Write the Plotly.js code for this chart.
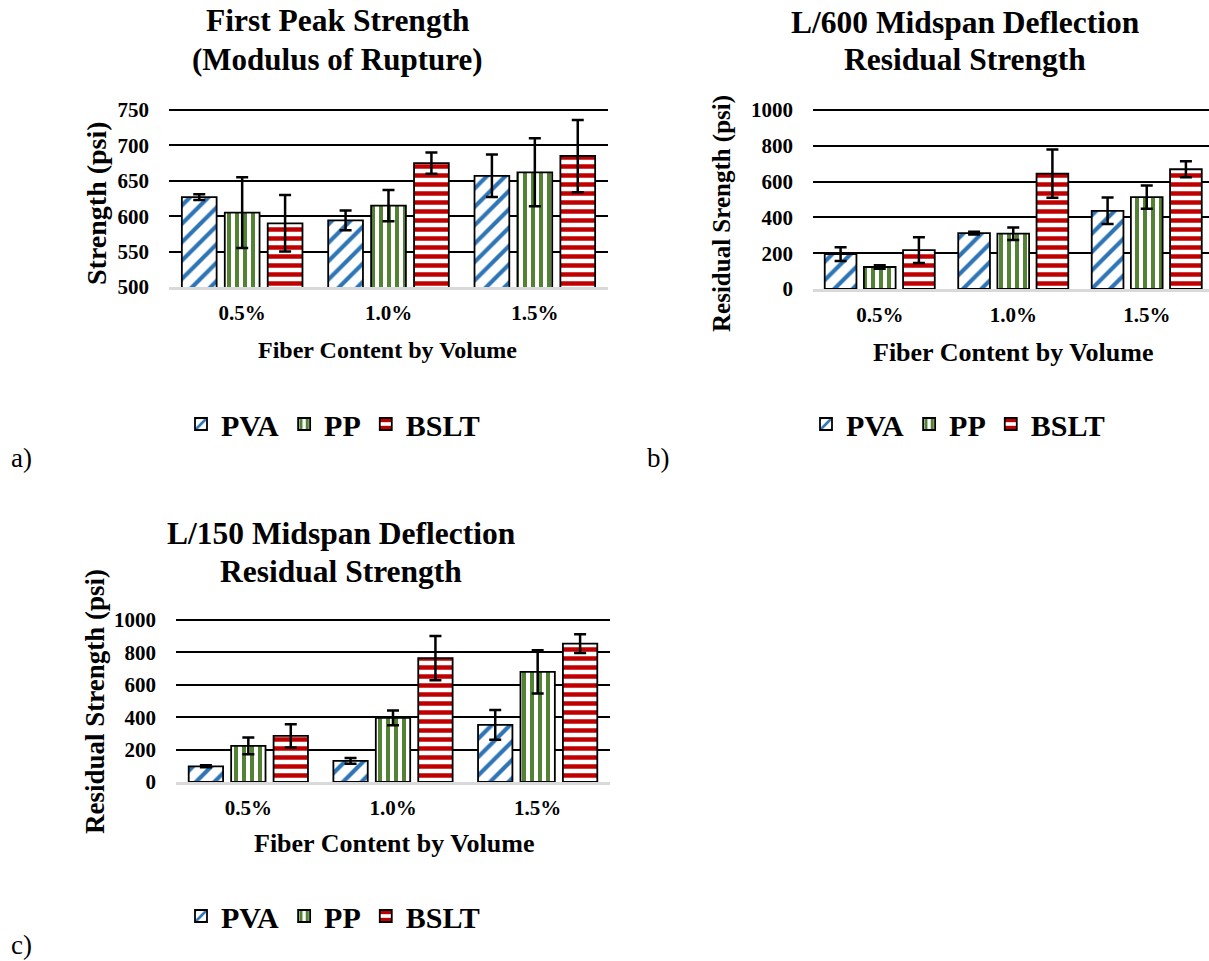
<!DOCTYPE html>
<html>
<head>
<meta charset="utf-8">
<script src="https://cdn.plot.ly/plotly-3.0.1.min.js"></script>
<style>html,body{margin:0;padding:0;background:#fff;}#chart{width:1209px;height:961px;}</style>
</head>
<body>
<div id="chart"></div>
<script>
// ---- data ----
const categories = ['0.5%', '1.0%', '1.5%'];
const seriesNames = ['PVA', 'PP', 'BSLT'];

// a) First Peak Strength (psi)
const aPVA = [627, 594, 657];
const aPVAerr = [4, 14, 30];
const aPP = [605, 615, 662];
const aPPerr = [50, 22, 48];
const aBSLT = [590, 675, 685];
const aBSLTerr = [40, 15, 51];

// b) L/600 residual strength (psi)
const bPVA = [195, 312, 437];
const bPVAerr = [38, 8, 74];
const bPP = [123, 309, 513];
const bPPerr = [10, 35, 65];
const bBSLT = [217, 645, 669];
const bBSLTerr = [72, 135, 45];

// c) L/150 residual strength (psi)
const cPVA = [97, 130, 353];
const cPVAerr = [6, 18, 92];
const cPP = [223, 396, 680];
const cPPerr = [52, 45, 133];
const cBSLT = [285, 765, 854];
const cBSLTerr = [72, 137, 58];

// ---- styling ----
const W = 1209, H = 961;
const FONT = 'Liberation Serif';
const styles = {
  PVA:  {shape: '/', fg: '#2e75b6', size: 13, solidity: 0.32},
  PP:   {shape: '|', fg: '#548235', size: 8,  solidity: 0.5},
  BSLT: {shape: '-', fg: '#c00000', size: 9,  solidity: 0.5}
};
const px = v => v / W;
const py = v => 1 - v / H;

function bar(name, y, err, xa, ya, legend) {
  const s = styles[name];
  return {
    type: 'bar', name: name, x: categories, y: y,
    xaxis: xa, yaxis: ya, legend: legend,
    marker: {
      color: 'white',
      line: {color: '#000', width: 1.8},
      pattern: {shape: s.shape, fgcolor: s.fg, bgcolor: 'white', size: s.size, solidity: s.solidity, fillmode: 'replace'}
    },
    error_y: {type: 'data', array: err, visible: true, color: '#000', thickness: 2.5, width: 6},
    hoverinfo: 'skip'
  };
}

const data = [
  bar('PVA', aPVA, aPVAerr, 'x', 'y', 'legend'),
  bar('PP', aPP, aPPerr, 'x', 'y', 'legend'),
  bar('BSLT', aBSLT, aBSLTerr, 'x', 'y', 'legend'),
  bar('PVA', bPVA, bPVAerr, 'x2', 'y2', 'legend2'),
  bar('PP', bPP, bPPerr, 'x2', 'y2', 'legend2'),
  bar('BSLT', bBSLT, bBSLTerr, 'x2', 'y2', 'legend2'),
  bar('PVA', cPVA, cPVAerr, 'x3', 'y3', 'legend3'),
  bar('PP', cPP, cPPerr, 'x3', 'y3', 'legend3'),
  bar('BSLT', cBSLT, cBSLTerr, 'x3', 'y3', 'legend3')
];

const tickFont = {family: FONT, size: 21, weight: 'bold', color: '#000'};

function xAxis(d0, d1, anchor, range) {
  return {
    domain: [px(d0), px(d1)], anchor: anchor, type: 'category', range: range,
    showline: true, linecolor: '#d9d9d9', linewidth: 2.5, ticks: '', showgrid: false,
    zeroline: false, tickfont: tickFont, ticklabelstandoff: 5, fixedrange: true
  };
}
// top is extended by 'pad' pixels so the top gridline is drawn inside the plot area
function yAxis(top, bottom, anchor, lo, hi, dtick) {
  const pad = 2;
  const perPx = (hi - lo) / (bottom - top);
  return {
    domain: [py(bottom), py(top - pad)], anchor: anchor, range: [lo, hi + pad * perPx], dtick: dtick,
    showgrid: true, gridcolor: '#000', gridwidth: 2, zeroline: false, showline: false,
    ticks: '', tickfont: tickFont, ticklabelstandoff: 19, fixedrange: true
  };
}

const legFont = {family: FONT, size: 30, weight: 'bold', color: '#000'};
function legend(x, y) {
  return {orientation: 'h', x: px(x), y: py(y), xanchor: 'left', yanchor: 'middle',
          font: legFont, bgcolor: 'rgba(0,0,0,0)', traceorder: 'normal', itemclick: false, itemdoubleclick: false};
}

function txt(text, x, y, size, bold, angle) {
  return {text: text, x: px(x), y: py(y), xref: 'paper', yref: 'paper', showarrow: false,
          xanchor: 'center', yanchor: 'middle', textangle: angle || 0,
          font: {family: FONT, size: size, weight: bold ? 'bold' : 'normal', color: '#000'}};
}

const layout = {
  width: W, height: H, margin: {l: 0, r: 0, t: 0, b: 0},
  paper_bgcolor: '#fff', plot_bgcolor: '#fff',
  font: {family: FONT},
  barmode: 'group', bargap: 0.12, bargroupgap: 0.19,
  showlegend: true,
  xaxis: xAxis(169, 608, 'y', [-0.5, 2.5]),
  yaxis: yAxis(110, 287, 'x', 500, 750, 50),
  xaxis2: xAxis(813, 1209, 'y2', [-0.5, -0.5 + 396 / 133.5]),
  yaxis2: yAxis(110, 289, 'x2', 0, 1000, 200),
  xaxis3: xAxis(176, 610, 'y3', [-0.5, 2.5]),
  yaxis3: yAxis(620, 782, 'x3', 0, 1000, 200),
  legend: legend(181, 424),
  legend2: legend(806, 424),
  legend3: legend(181, 916),
  annotations: [
    txt('First Peak Strength', 338, 21, 31.5, true),
    txt('(Modulus of Rupture)', 338, 60, 31, true),
    txt('L/600 Midspan Deflection', 965, 22, 31.5, true),
    txt('Residual Strength', 965, 60, 31.5, true),
    txt('L/150 Midspan Deflection', 341, 533, 31.5, true),
    txt('Residual Strength', 341, 571, 31.5, true),
    txt('Strength (psi)', 96, 203, 28, true, -90),
    txt('Residual Srength (psi)', 722, 214, 25, true, -90),
    txt('Residual Strength (psi)', 95, 702, 27, true, -90),
    txt('Fiber Content by Volume', 388, 350, 24, true),
    txt('Fiber Content by Volume', 1013, 352, 26, true),
    txt('Fiber Content by Volume', 394, 843, 26, true),
    txt('a)', 21, 458, 27, false),
    txt('b)', 658, 458, 27, false),
    txt('c)', 21, 945, 27, false)
  ]
};

Plotly.newPlot('chart', data, layout, {staticPlot: true, displayModeBar: false});
</script>
</body>
</html>
